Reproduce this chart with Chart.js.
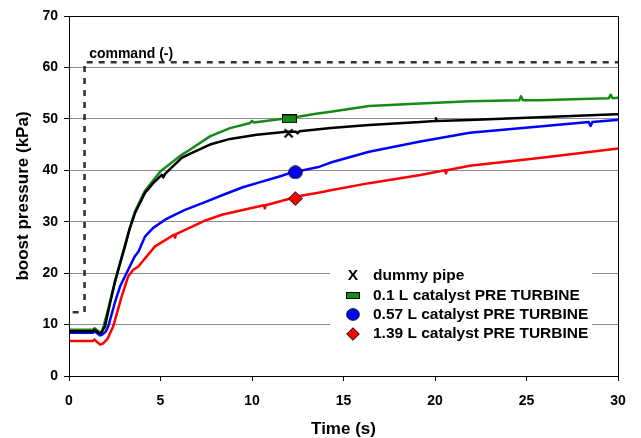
<!DOCTYPE html>
<html>
<head>
<meta charset="utf-8">
<script src="https://cdn.jsdelivr.net/npm/chart.js@4.4.1/dist/chart.umd.min.js"></script>
<style>
  html, body { margin: 0; padding: 0; background: #fff; }
  #wrap { width: 641px; height: 438px; position: relative; }
</style>
</head>
<body>
<div id="wrap"><canvas id="chart"></canvas></div>
<script>
// ---- data ----
const seriesLabels = ['dummy pipe', '0.1 L catalyst PRE TURBINE', '0.57 L catalyst PRE TURBINE', '1.39 L catalyst PRE TURBINE'];
const commandLabel = 'command (-)';
const xTitle = 'Time (s)';
const yTitle = 'boost pressure (kPa)';

const cmdT = [0.2, 0.85, 0.85, 30];
const cmdP = [12.4, 12.4, 61, 61];

const blackT = [0, 1.3, 1.4, 1.5, 1.7, 1.8, 1.97, 2.2, 2.5, 2.8, 3.06, 3.3, 3.61, 4.15, 4.6, 5.07, 5.15, 5.25, 5.6, 6.16, 6.6, 7.7, 8.8, 10.26, 11.9, 12.4, 12.5, 12.6, 14.3, 16.4, 19.2, 20.0, 20.05, 20.1, 21.9, 25.7, 29.9, 30];
const blackP = [8.7, 8.7, 9.0, 8.7, 8.2, 8.6, 9.7, 13.5, 18.1, 22, 25.2, 28.5, 31.7, 35.6, 37.5, 39.1, 38.6, 39.3, 40.5, 42.4, 43.2, 45, 46.1, 46.9, 47.5, 47.5, 47.2, 47.6, 48.2, 48.8, 49.4, 49.6, 50.1, 49.6, 49.8, 50.3, 50.9, 50.9];

const greenT = [0, 1.3, 1.4, 1.5, 1.7, 1.8, 1.9, 2.2, 2.5, 3.06, 3.6, 4.15, 5.0, 5.5, 6.16, 6.6, 7.7, 8.8, 9.9, 10.0, 10.1, 11.7, 12.0, 13.5, 14.3, 16.4, 19.2, 21.9, 24.6, 24.7, 24.8, 25.7, 27.5, 29.5, 29.6, 29.7, 30];
const greenP = [9.0, 9.0, 9.3, 9.0, 8.5, 8.7, 9.8, 13.8, 18.3, 25.5, 32, 36, 39.8, 41.2, 43, 44, 46.6, 48.2, 49.2, 49.6, 49.3, 50, 50.1, 51, 51.4, 52.5, 53.0, 53.4, 53.6, 54.4, 53.6, 53.6, 53.8, 54, 54.7, 54, 54.1];

const blueT = [0, 1.3, 1.4, 1.5, 1.7, 1.8, 2.0, 2.15, 2.5, 2.8, 3.06, 3.6, 3.8, 4.15, 4.6, 5.25, 5.8, 6.34, 7.43, 8.4, 9.5, 10.26, 11.5, 12.1, 13.7, 14.3, 16.4, 19.2, 21.9, 25.7, 28.4, 28.5, 28.6, 29.9, 30];
const blueP = [8.4, 8.4, 8.8, 8.4, 7.9, 8.0, 8.6, 9.7, 14.2, 17.5, 19.4, 23.3, 24.2, 27.1, 28.8, 30.4, 31.4, 32.3, 33.8, 35.2, 36.7, 37.5, 38.8, 39.5, 40.7, 41.5, 43.6, 45.6, 47.3, 48.5, 49.4, 48.6, 49.4, 49.8, 49.8];

const redT = [0, 1.3, 1.4, 1.5, 1.7, 1.85, 2.1, 2.42, 2.88, 3.24, 3.5, 3.79, 4.7, 5.75, 5.8, 5.85, 7.43, 8.4, 10.65, 10.7, 10.75, 12.6, 13.7, 14.3, 16.4, 19.2, 20.55, 20.6, 20.65, 21.9, 25.7, 29.9, 30];
const redP = [6.8, 6.8, 7.1, 6.7, 6.1, 6.3, 7.2, 9.7, 15.5, 19.4, 20.6, 21.3, 25.2, 27.5, 26.9, 27.6, 30.2, 31.4, 33.2, 32.6, 33.2, 35.0, 35.7, 36.1, 37.5, 39.1, 40.0, 39.4, 40.0, 40.9, 42.4, 44.2, 44.2];

// single marker per curve
const markT = [12.0, 12.04, 12.37, 12.37];
const markP = [47.2, 50.0, 39.6, 34.5];

const colors = ['#000000', '#168a16', '#0000ff', '#ff0000'];

const pts = (t, p) => t.map((v, i) => ({ x: v, y: p[i] }));

// marker bitmaps
function mk(w, h, draw) {
  const c = document.createElement('canvas');
  c.width = w; c.height = h;
  draw(c.getContext('2d'));
  return c;
}
function xMark(s) {
  return mk(s, s, g => {
    g.strokeStyle = '#000'; g.lineWidth = 2.2;
    g.beginPath();
    g.moveTo(1.5, 1.5); g.lineTo(s - 1.5, s - 1.5);
    g.moveTo(s - 1.5, 1.5); g.lineTo(1.5, s - 1.5);
    g.stroke();
  });
}
function rectMark(w, h) {
  return mk(w, h, g => {
    g.fillStyle = colors[1]; g.fillRect(0.5, 0.5, w - 1, h - 1);
    g.strokeStyle = '#000'; g.lineWidth = 1; g.strokeRect(0.5, 0.5, w - 1, h - 1);
  });
}
function circMark(w, h) {
  return mk(w, h, g => {
    g.fillStyle = colors[2];
    g.beginPath(); g.ellipse(w / 2, h / 2, w / 2 - 0.7, h / 2 - 0.7, 0, 0, Math.PI * 2);
    g.fill(); g.strokeStyle = '#000'; g.lineWidth = 1; g.stroke();
  });
}
function diaMark(w, h) {
  return mk(w, h, g => {
    g.fillStyle = colors[3];
    g.beginPath();
    g.moveTo(w / 2, 0.7); g.lineTo(w - 0.7, h / 2); g.lineTo(w / 2, h - 0.7); g.lineTo(0.7, h / 2);
    g.closePath(); g.fill(); g.strokeStyle = '#000'; g.lineWidth = 1; g.stroke();
  });
}
const markStyles = [xMark(11), rectMark(15, 9), circMark(15, 14), diaMark(15, 15)];
const legendStyles = [null, rectMark(14, 7), circMark(14, 13), diaMark(14, 14)];

const lineSet = (label, t, p, color, order) => ({
  type: 'line', label, data: pts(t, p), borderColor: color, borderWidth: 2.5,
  borderJoinStyle: 'round', pointRadius: 0, tension: 0, fill: false, order
});

const datasets = [
  lineSet(seriesLabels[0], blackT, blackP, colors[0], 1),
  lineSet(seriesLabels[1], greenT, greenP, colors[1], 2),
  lineSet(seriesLabels[2], blueT, blueP, colors[2], 3),
  lineSet(seriesLabels[3], redT, redP, colors[3], 4),
  {
    type: 'line', label: commandLabel, data: pts(cmdT, cmdP), borderColor: '#333',
    borderWidth: 2.6, borderDash: [6, 6], pointRadius: 0, tension: 0, fill: false, order: 5
  }
];
markT.forEach((t, i) => {
  datasets.push({
    type: 'scatter', label: 'm' + i, data: [{ x: t, y: markP[i] }],
    pointStyle: markStyles[i], pointRadius: 7, order: 0
  });
});

// frame + in-plot legend + command label
const extras = {
  id: 'extras',
  afterDraw(chart) {
    const { ctx, chartArea: a, scales } = chart;
    ctx.save();
    ctx.strokeStyle = '#000'; ctx.lineWidth = 1;
    ctx.strokeRect(Math.round(a.left) + 0.5, Math.round(a.top) + 0.5,
      Math.round(a.right - a.left), Math.round(a.bottom - a.top));

    ctx.fillStyle = '#000';
    ctx.font = 'bold 14px "Liberation Sans", Arial, sans-serif';
    ctx.textBaseline = 'middle';
    ctx.fillText(commandLabel, scales.x.getPixelForValue(1.1), scales.y.getPixelForValue(62.6));

    // legend box
    ctx.fillStyle = '#fff';
    ctx.fillRect(330, 263, 262, 82);
    const mx = 353, tx = 373, y0 = 276, dy = 19.3;
    ctx.font = 'bold 15.5px "Liberation Sans", Arial, sans-serif';
    seriesLabels.forEach((lab, i) => {
      const y = y0 + i * dy;
      ctx.fillStyle = '#000';
      if (i === 0) {
        ctx.textAlign = 'center';
        ctx.fillText('X', mx, y);
        ctx.textAlign = 'left';
      } else {
        const s = legendStyles[i];
        ctx.drawImage(s, Math.round(mx - s.width / 2), Math.round(y - s.height / 2));
      }
      ctx.fillText(lab, tx, y);
    });
    ctx.restore();
  }
};

new Chart(document.getElementById('chart'), {
  data: { datasets },
  options: {
    responsive: true,
    maintainAspectRatio: false,
    animation: false,
    layout: { padding: { top: 16, right: 23, left: 0, bottom: 0 } },
    plugins: { legend: { display: false }, tooltip: { enabled: false } },
    scales: {
      x: {
        type: 'linear', min: 0, max: 30,
        ticks: { stepSize: 5, color: '#000', padding: 12,
          font: { family: '"Liberation Sans", Arial, sans-serif', size: 14, weight: 'bold' } },
        grid: { drawOnChartArea: false, tickLength: 5, color: '#000' },
        border: { color: '#000' },
        title: { display: true, text: xTitle, color: '#000', padding: { top: 0, bottom: 0 },
          font: { family: '"Liberation Sans", Arial, sans-serif', size: 17, weight: 'bold', lineHeight: 1.0 } },
        afterFit: s => { s.height = 62; }
      },
      y: {
        min: 0, max: 70,
        ticks: { stepSize: 10, color: '#000', padding: 6,
          font: { family: '"Liberation Sans", Arial, sans-serif', size: 14, weight: 'bold' } },
        grid: { color: '#8c8c8c', tickColor: '#000', tickLength: 5 },
        border: { color: '#000' },
        title: { display: true, text: yTitle, color: '#000', padding: { top: 13, bottom: 0 },
          font: { family: '"Liberation Sans", Arial, sans-serif', size: 17, weight: 'bold' } },
        afterFit: s => { s.width = 69; }
      }
    }
  },
  plugins: [extras]
});
</script>
</body>
</html>
